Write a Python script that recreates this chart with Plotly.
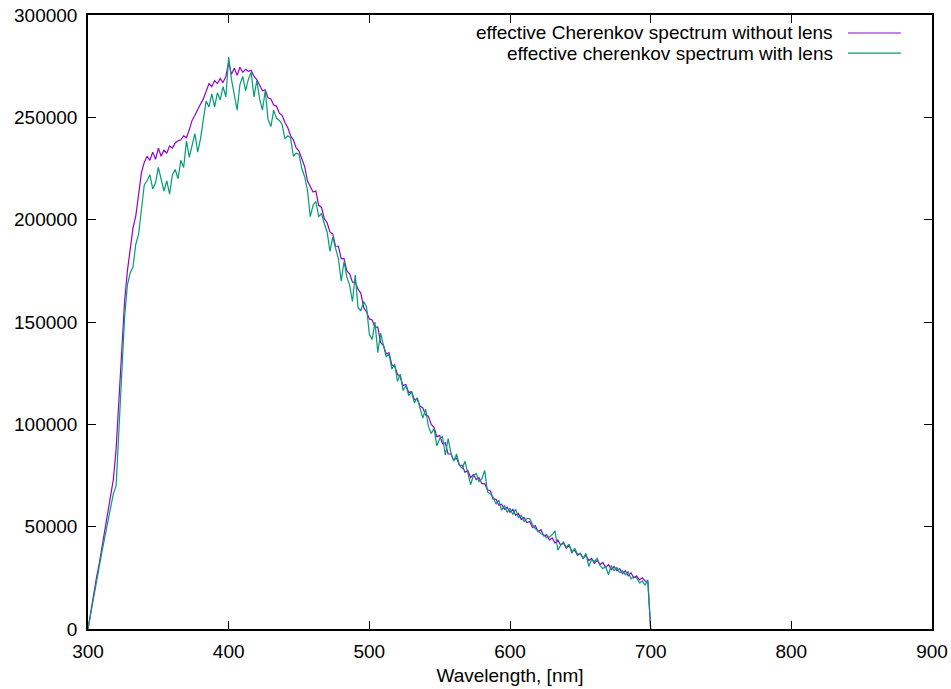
import plotly.graph_objects as go

wavelength = list(range(300, 701, 2))

without_lens = [
    0, 9000, 18000, 25000, 32000, 40000, 47000, 55000, 63000, 73000,          # 300-318
    88000, 112000, 138000, 160000, 175000, 186000, 196000, 202000, 212000, 223000,  # 320-338
    228000, 231000, 229000, 233000, 229500, 235000, 231000, 234000, 232500, 236000,  # 340-358
    235000, 237500, 238500, 239000, 241000, 240000, 244000, 248500, 251000, 254000,  # 360-378
    256500, 259000, 263000, 266500, 265000, 268000, 266500, 269000, 267000, 270000,  # 380-398
    277000, 271000, 274000, 270500, 274500, 272000, 273500, 272500, 273000, 270000,  # 400-418
    268500, 266000, 263000, 263500, 259500, 259000, 256000, 255500, 252000, 251000,  # 420-438
    247500, 245000, 241000, 239000, 235000, 233500, 229500, 226000, 219000, 216500,  # 440-458
    213500, 214000, 207000, 206000, 200500, 198500, 194000, 193000, 187000, 187000,  # 460-478
    181000, 181000, 175000, 173500, 169500, 169500, 166000, 164000, 157000, 155000,  # 480-498
    151500, 151000, 147500, 147500, 140000, 138500, 134500, 135000, 129000, 128500,  # 500-518
    124500, 123000, 119000, 119500, 115500, 116000, 112000, 112500, 109000, 108000,  # 520-538
    104500, 104000, 100000, 98500, 94000, 94500, 90500, 91000, 85500, 85500,  # 540-558
    82500, 83500, 80000, 80000, 76500, 77500, 74000, 75500, 73000, 74000,  # 560-578
    71000, 71000, 68000, 67500, 63500, 63500, 60500, 61000, 58500, 59500,  # 580-598
    57000, 58500, 55500, 56500, 53500, 54500, 52000, 52500, 49500, 50500,  # 600-618
    47500, 48500, 45500, 46000, 43500, 44500, 42000, 43500, 41000, 42000,  # 620-638
    39500, 41000, 38000, 38500, 36000, 37000, 34500, 36000, 33500, 34500,  # 640-658
    32000, 33500, 31500, 32500, 30000, 31500, 29000, 30500, 28500, 29500,  # 660-678
    27000, 28500, 26000, 27500, 25000, 26000, 24000, 25000, 23500, 23000,  # 680-698
    0,  # 700
]

with_lens = [
    0, 8000, 16000, 23000, 30000, 38000, 45000, 52000, 60000, 66000,  # 300-318
    70000, 100000, 128000, 152000, 168000, 174000, 177000, 188000, 193000, 205000,  # 320-338
    217000, 219000, 222000, 215000, 218000, 225500, 220000, 214000, 219000, 212500,  # 340-358
    222000, 224500, 220000, 229000, 225500, 238500, 230500, 236000, 242000, 233000,  # 360-378
    239500, 249000, 258000, 255000, 261500, 255000, 262000, 258500, 265000, 260000,  # 380-398
    279500, 268500, 261000, 253500, 266000, 270000, 263000, 268500, 272000, 260000,  # 400-418
    268000, 259000, 253500, 263000, 249000, 245500, 253500, 249500, 248500, 246500,  # 420-438
    239500, 241000, 240000, 231000, 232500, 232000, 225000, 221000, 214500, 201500,  # 440-458
    207000, 209000, 201500, 203000, 198000, 194000, 184500, 191500, 186000, 181000,  # 460-478
    170000, 179500, 172000, 168000, 160000, 173000, 157000, 155500, 160000, 157500,  # 480-498
    144000, 141500, 150000, 135000, 144500, 138000, 133000, 134500, 127000, 129500,  # 500-518
    121000, 124500, 116500, 119000, 114000, 116000, 110500, 113000, 108500, 103000,  # 520-538
    107500, 99000, 95500, 98000, 89500, 93000, 94000, 85000, 93000, 86000,  # 540-558
    82000, 85500, 80000, 78500, 82000, 76000, 70500, 75000, 76000, 72000,  # 560-578
    73500, 77500, 67000, 66000, 64500, 61000, 63000, 58000, 60500, 57000,  # 580-598
    59000, 56000, 58500, 54500, 55500, 52500, 54000, 54000, 51000, 49000,  # 600-618
    48000, 46500, 46000, 44500, 45000, 46000, 48000, 38500, 41000, 42500,  # 620-638
    40000, 41500, 37000, 39500, 36500, 37000, 34500, 37000, 30500, 34000,  # 640-658
    33000, 34500, 31000, 29500, 30500, 26500, 31000, 28500, 30000, 27500,  # 660-678
    28500, 26500, 28000, 24500, 25500, 25000, 22500, 23500, 21500, 24000,  # 680-698
    0,  # 700
]

series_names = [
    "effective Cherenkov spectrum without lens",
    "effective cherenkov spectrum with lens",
]
series_colors = ["#9400d3", "#009e73"]

x_ticks = [300, 400, 500, 600, 700, 800, 900]
y_ticks = [0, 50000, 100000, 150000, 200000, 250000, 300000]

fig = go.Figure()
for name, vals, col in zip(series_names, [without_lens, with_lens], series_colors):
    fig.add_trace(go.Scatter(
        x=wavelength, y=vals, mode="lines", name=name,
        line=dict(color=col, width=1.2), showlegend=False,
    ))

font_family = "Liberation Sans, Arial, sans-serif"
FS = 19

# gnuplot-style key: right-aligned text with line sample to the right
key_y = [0.9707, 0.938]
for name, col, ky in zip(series_names, series_colors, key_y):
    fig.add_annotation(
        xref="paper", yref="paper", x=0.885, y=ky, text=name,
        showarrow=False, xanchor="right", yanchor="middle",
        font=dict(family=font_family, size=FS, color="black"),
    )
    fig.add_shape(
        type="line", xref="paper", yref="paper",
        x0=0.9005, x1=0.963, y0=ky, y1=ky,
        line=dict(color=col, width=1.2),
    )

axis_common = dict(
    showgrid=False, zeroline=False, showline=True, linecolor="black",
    linewidth=1.5, mirror="ticks", ticks="inside", ticklen=8,
    tickcolor="black", tickwidth=1, automargin=False,
    ticklabeloverflow="allow",
    tickfont=dict(family=font_family, size=FS, color="black"),
)

fig.update_layout(
    width=951, height=689,
    margin=dict(l=88, r=19, t=15, b=60),
    paper_bgcolor="white", plot_bgcolor="white",
    xaxis=dict(range=[300, 900], tickvals=x_ticks, ticklabelstandoff=4,
               title=dict(text="Wavelength, [nm]", standoff=8,
                          font=dict(family=font_family, size=FS, color="black")),
               **axis_common),
    yaxis=dict(range=[0, 300000], tickvals=y_ticks, ticklabelstandoff=5,
               ticktext=[str(v) for v in y_ticks], **axis_common),
)

fig.write_html("out.html")
